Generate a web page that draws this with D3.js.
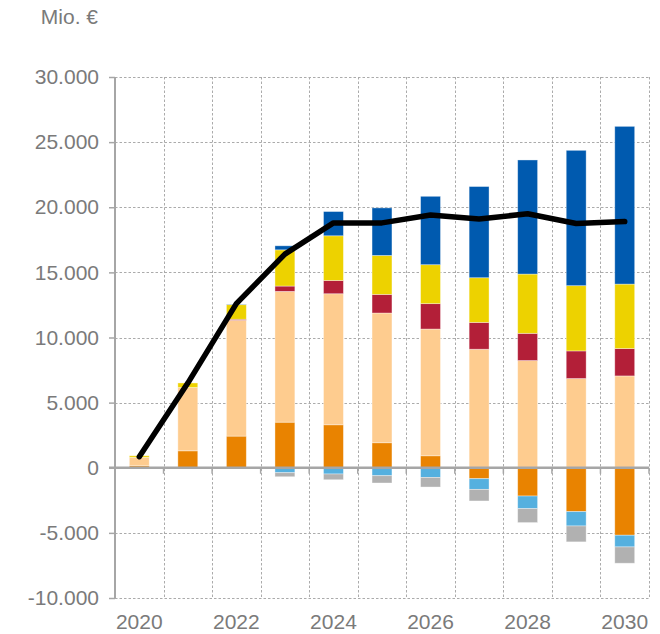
<!DOCTYPE html>
<html>
<head>
<meta charset="utf-8">
<script src="https://cdn.jsdelivr.net/npm/d3@7"></script>
<style>
  html, body { margin: 0; padding: 0; background: #fff; }
  svg { display: block; font-family: "Liberation Sans", Arial, sans-serif; }
</style>
</head>
<body>
<div id="chart"></div>
<script>
"use strict";
const years = [2020, 2021, 2022, 2023, 2024, 2025, 2026, 2027, 2028, 2029, 2030];
const orangeVals = [150, 1300, 2430, 3500, 3300, 1920, 920, -840, -2170, -3370, -5180];
const peachVals = [650, 4860, 8890, 10040, 10060, 9960, 9730, 9100, 8230, 6850, 7050];
const redVals = [0, 0, 80, 410, 1020, 1430, 1950, 2060, 2090, 2120, 2100];
const yellowVals = [120, 350, 1120, 2780, 3430, 2990, 2990, 3430, 4550, 5010, 4950];
const blueVals = [0, 0, 30, 310, 1860, 3650, 5250, 7000, 8760, 10390, 12110];
const lightBlueVals = [0, 0, 0, -380, -480, -610, -740, -820, -970, -1100, -900];
const grayVals = [0, 0, 0, -310, -440, -560, -740, -890, -1070, -1220, -1250];
const lineVals = [850, 6500, 12600, 16400, 18800, 18800, 19400, 19100, 19500, 18750, 18900];
const yTicks = [-10000, -5000, 0, 5000, 10000, 15000, 20000, 25000, 30000];
const xLabels = [2020, 2022, 2024, 2026, 2028, 2030];

const keys = ["orange", "peach", "red", "yellow", "blue", "lightblue", "gray"];
const colors = {
    orange: "#E98300", peach: "#FECC8F", red: "#B31F38", yellow: "#EDD200",
    blue: "#005AAF", lightblue: "#55B0DF", gray: "#B1B1B1"
};
const table = years.map((y, i) => ({
    year: y, orange: orangeVals[i], peach: peachVals[i], red: redVals[i],
    yellow: yellowVals[i], blue: blueVals[i], lightblue: lightBlueVals[i], gray: grayVals[i]
}));

const width = 660, height = 634;
const marginLeft = 115, marginRight = 11, marginTop = 77, marginBottom = 36;
const textColor = "#7a7a7a";
const axisColor = "#a6a6a6";

const x = d3.scaleBand()
    .domain(years)
    .range([marginLeft, width - marginRight])
    .padding(0);
const barW = x.bandwidth() * 0.41;

const y = d3.scaleLinear()
    .domain([-10000, 30000])
    .range([height - marginBottom, marginTop]);

// german number format: 30.000, -5.000
const fmt = d => d3.format(",")(Math.abs(d)).replace(/,/g, ".");
const yFormat = d => (d < 0 ? "-" : "") + fmt(d);

const svg = d3.select("#chart").append("svg")
    .attr("width", width)
    .attr("height", height)
    .attr("viewBox", [0, 0, width, height]);

// unit label
svg.append("text")
    .attr("x", 98)
    .attr("y", 24)
    .attr("text-anchor", "end")
    .attr("fill", textColor)
    .style("font-size", "21px")
    .text("Mio. €");

// dotted grid
const grid = svg.append("g")
    .attr("stroke", "#ababab")
    .attr("stroke-width", 1)
    .attr("stroke-dasharray", "2.5,2");
grid.selectAll("line.h")
    .data(yTicks.filter(d => d !== 0))
    .join("line")
    .attr("class", "h")
    .attr("x1", marginLeft)
    .attr("x2", width - marginRight)
    .attr("y1", d => Math.round(y(d)) + 0.5)
    .attr("y2", d => Math.round(y(d)) + 0.5);
grid.selectAll("line.v")
    .data(years)
    .join("line")
    .attr("class", "v")
    .attr("x1", d => Math.round(x(d) + x.bandwidth()) + 0.5)
    .attr("x2", d => Math.round(x(d) + x.bandwidth()) + 0.5)
    .attr("y1", y(30000))
    .attr("y2", y(-10000));

// stacked bars
const series = d3.stack()
    .keys(keys)
    .offset(d3.stackOffsetDiverging)(table);

svg.append("g")
  .selectAll("g")
  .data(series)
  .join("g")
    .attr("fill", d => colors[d.key])
  .selectAll("rect")
  .data(d => d)
  .join("rect")
    .attr("x", d => x(d.data.year) + (x.bandwidth() - barW) / 2)
    .attr("width", barW)
    .attr("y", d => y(Math.max(d[0], d[1])))
    .attr("height", d => Math.abs(y(d[0]) - y(d[1])))
    .attr("stroke", "#fff")
    .attr("stroke-opacity", 0.45)
    .attr("stroke-width", 0.8);

// left axis
const yAxis = svg.append("g")
    .attr("transform", `translate(${marginLeft},0)`)
    .call(d3.axisLeft(y).tickValues(yTicks).tickSize(6).tickPadding(10)
        .tickFormat(yFormat));
yAxis.select(".domain").attr("stroke", axisColor).attr("stroke-width", 2)
    .attr("d", `M0,${y(30000)}V${y(-10000)}`);
yAxis.selectAll(".tick line").attr("stroke", axisColor).attr("stroke-width", 1.5);
yAxis.selectAll(".tick text")
    .attr("fill", textColor)
    .style("font-size", "21px")
    .style("font-family", "Liberation Sans, Arial, sans-serif");

// zero line with ticks at category boundaries
const zero = svg.append("g");
zero.append("line")
    .attr("x1", marginLeft - 6)
    .attr("x2", width - marginRight)
    .attr("y1", y(0))
    .attr("y2", y(0))
    .attr("stroke", axisColor)
    .attr("stroke-width", 2.5);
zero.selectAll("line.t")
    .data(years)
    .join("line")
    .attr("class", "t")
    .attr("x1", d => x(d) + x.bandwidth())
    .attr("x2", d => x(d) + x.bandwidth())
    .attr("y1", y(0))
    .attr("y2", y(0) + 6)
    .attr("stroke", axisColor)
    .attr("stroke-width", 1.5);

// x labels
svg.append("g")
  .selectAll("text")
  .data(xLabels)
  .join("text")
    .attr("x", d => x(d) + x.bandwidth() / 2)
    .attr("y", 629)
    .attr("text-anchor", "middle")
    .attr("fill", textColor)
    .style("font-size", "21px")
    .text(d => d);

// total line
const line = d3.line()
    .x((d, i) => x(years[i]) + x.bandwidth() / 2)
    .y(d => y(d));
svg.append("path")
    .datum(lineVals)
    .attr("fill", "none")
    .attr("stroke", "#000")
    .attr("stroke-width", 5.5)
    .attr("stroke-linejoin", "round")
    .attr("stroke-linecap", "round")
    .attr("d", line);
</script>
</body>
</html>
